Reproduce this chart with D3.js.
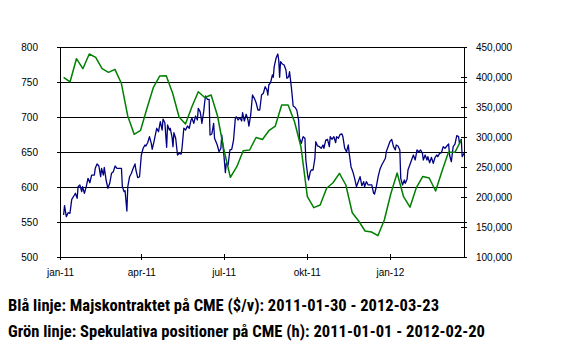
<!DOCTYPE html>
<html><head><meta charset="utf-8">
<script src="https://cdn.jsdelivr.net/npm/d3@7"></script>
<style>body{margin:0;background:#fff}svg{display:block}</style>
</head><body>
<script>
// ---------- DATA ----------
const leftTicks = [500, 550, 600, 650, 700, 750, 800];
const rightTicks = [100000, 150000, 200000, 250000, 300000, 350000, 400000, 450000];
const xTickDates = ["2011-01-01", "2011-04-01", "2011-07-01", "2011-10-01", "2012-01-01"];
const xTickLabels = ["jan-11", "apr-11", "jul-11", "okt-11", "jan-12"];
const legendLines = [
  "Blå linje: Majskontraktet på CME ($/v): 2011-01-30 - 2012-03-23",
  "Grön linje: Spekulativa positioner på CME (h): 2011-01-01 - 2012-02-20"
];
// Blue: corn contract price ($/bushel cents), left axis
const blueSeries = [
["2011-01-05",560.0],["2011-01-06",573.3],["2011-01-08",557.6],["2011-01-10",563.3],["2011-01-12",562.4],
["2011-01-14",582.4],["2011-01-17",588.6],["2011-01-18",591.0],["2011-01-20",583.9],["2011-01-21",600.4],
["2011-01-23",602.9],["2011-01-25",593.3],["2011-01-26",600.4],["2011-01-28",591.0],["2011-01-30",600.4],
["2011-02-01",612.4],["2011-02-03",606.1],["2011-02-05",617.1],["2011-02-08",617.1],["2011-02-09",626.7],
["2011-02-11",632.9],["2011-02-13",630.0],["2011-02-15",614.7],["2011-02-16",626.7],["2011-02-18",617.1],
["2011-02-19",628.1],["2011-02-21",610.0],["2011-02-23",598.1],["2011-02-25",605.3],["2011-02-27",619.6],
["2011-03-01",621.9],["2011-03-03",630.0],["2011-03-05",626.7],["2011-03-08",626.7],["2011-03-10",626.7],
["2011-03-11",600.4],["2011-03-13",593.3],["2011-03-14",594.7],["2011-03-16",565.7],["2011-03-17",600.4],
["2011-03-19",614.7],["2011-03-21",619.6],["2011-03-23",626.7],["2011-03-25",632.9],["2011-03-26",624.3],
["2011-03-28",613.3],["2011-03-30",614.7],["2011-04-01",645.7],["2011-04-03",655.3],["2011-04-05",660.0],
["2011-04-06",658.6],["2011-04-08",663.3],["2011-04-10",671.9],["2011-04-12",662.4],["2011-04-13",653.9],
["2011-04-15",664.7],["2011-04-18",683.9],["2011-04-20",679.0],["2011-04-22",693.3],["2011-04-24",681.4],
["2011-04-25",697.1],["2011-04-27",691.9],["2011-04-29",656.7],["2011-04-30",688.6],["2011-05-02",681.4],
["2011-05-03",683.9],["2011-05-05",671.0],["2011-05-06",657.6],["2011-05-07",677.6],["2011-05-09",669.6],
["2011-05-11",645.7],["2011-05-13",648.1],["2011-05-15",647.1],["2011-05-16",655.3],["2011-05-18",683.9],
["2011-05-20",681.4],["2011-05-22",687.1],["2011-05-24",683.9],["2011-05-26",695.7],["2011-05-27",698.1],
["2011-05-29",691.0],["2011-05-31",701.4],["2011-06-02",695.7],["2011-06-03",712.4],["2011-06-05",707.6],
["2011-06-06",700.4],["2011-06-07",691.0],["2011-06-09",707.6],["2011-06-10",720.4],["2011-06-11",730.0],
["2011-06-13",725.3],["2011-06-15",725.3],["2011-06-16",674.3],["2011-06-18",675.7],["2011-06-20",691.0],
["2011-06-21",669.6],["2011-06-24",660.0],["2011-06-26",650.4],["2011-06-28",655.3],["2011-06-29",674.3],
["2011-07-01",650.4],["2011-07-03",620.4],["2011-07-04",633.9],["2011-07-06",631.4],["2011-07-08",652.9],
["2011-07-10",653.9],["2011-07-12",667.1],["2011-07-14",698.1],["2011-07-15",700.4],["2011-07-17",695.7],
["2011-07-19",699.0],["2011-07-21",694.3],["2011-07-22",706.1],["2011-07-24",694.3],["2011-07-26",703.9],
["2011-07-28",695.7],["2011-07-29",687.1],["2011-07-31",702.9],["2011-08-02",731.4],["2011-08-04",726.7],
["2011-08-06",720.4],["2011-08-08",710.0],["2011-08-10",710.0],["2011-08-12",731.4],["2011-08-14",733.9],
["2011-08-16",743.3],["2011-08-18",738.6],["2011-08-19",731.4],["2011-08-20",745.7],["2011-08-22",749.0],
["2011-08-24",760.0],["2011-08-25",756.7],["2011-08-26",771.9],["2011-08-28",783.9],["2011-08-29",787.1],
["2011-08-30",790.0],["2011-08-31",781.4],["2011-09-01",756.7],["2011-09-02",779.0],["2011-09-04",775.7],
["2011-09-06",774.3],["2011-09-08",767.1],["2011-09-09",755.3],["2011-09-11",757.6],["2011-09-12",764.7],
["2011-09-14",742.4],["2011-09-16",715.7],["2011-09-18",713.9],["2011-09-20",710.0],["2011-09-22",695.7],
["2011-09-23",669.6],["2011-09-25",662.4],["2011-09-27",671.9],["2011-09-29",669.6],["2011-09-30",638.6],
["2011-10-02",617.1],["2011-10-03",610.0],["2011-10-05",621.9],["2011-10-06",624.3],["2011-10-08",624.3],
["2011-10-10",641.0],["2011-10-11",664.7],["2011-10-13",658.6],["2011-10-15",657.6],["2011-10-17",655.3],
["2011-10-19",660.0],["2011-10-20",655.3],["2011-10-22",667.1],["2011-10-24",668.1],["2011-10-26",657.6],
["2011-10-27",671.9],["2011-10-29",668.1],["2011-10-31",671.9],["2011-11-02",663.3],["2011-11-03",671.9],
["2011-11-05",669.6],["2011-11-07",675.3],["2011-11-09",675.7],["2011-11-10",671.9],["2011-11-12",655.3],
["2011-11-14",650.4],["2011-11-16",660.0],["2011-11-17",648.1],["2011-11-19",629.0],["2011-11-21",621.9],
["2011-11-23",612.4],["2011-11-25",600.4],["2011-11-27",607.6],["2011-11-29",614.7],["2011-12-01",601.9],
["2011-12-03",607.6],["2011-12-04",600.4],["2011-12-06",607.6],["2011-12-08",602.9],["2011-12-10",602.9],
["2011-12-12",602.9],["2011-12-14",591.0],["2011-12-15",590.0],["2011-12-17",600.4],["2011-12-19",614.7],
["2011-12-21",625.3],["2011-12-23",631.4],["2011-12-25",636.1],["2011-12-27",641.0],["2011-12-28",650.4],
["2011-12-30",657.6],["2012-01-01",664.7],["2012-01-03",668.1],["2012-01-05",657.6],["2012-01-07",652.9],
["2012-01-08",660.0],["2012-01-10",658.6],["2012-01-12",652.9],["2012-01-13",612.4],["2012-01-15",602.9],
["2012-01-17",610.0],["2012-01-18",605.3],["2012-01-20",611.0],["2012-01-21",624.3],["2012-01-23",631.4],
["2012-01-25",638.6],["2012-01-27",645.7],["2012-01-29",638.6],["2012-01-30",645.7],["2012-01-31",652.9],
["2012-02-02",650.4],["2012-02-04",652.9],["2012-02-06",648.1],["2012-02-07",638.6],["2012-02-09",645.7],
["2012-02-11",638.6],["2012-02-12",643.3],["2012-02-14",634.7],["2012-02-16",642.4],["2012-02-18",633.9],
["2012-02-20",642.4],["2012-02-22",645.7],["2012-02-23",643.3],["2012-02-25",648.1],["2012-02-27",649.0],
["2012-02-29",657.6],["2012-03-02",655.3],["2012-03-04",658.6],["2012-03-06",661.4],["2012-03-07",645.7],
["2012-03-09",636.1],["2012-03-11",657.6],["2012-03-13",661.4],["2012-03-15",673.3],["2012-03-17",671.9],
["2012-03-18",662.4],["2012-03-20",668.1],["2012-03-21",643.3],["2012-03-23",648.1]
];
// Green: speculative positions (contracts), right axis, weekly, plotted on its own category axis
const greenValues = [
399500,391700,430500,413800,438300,432800,413800,407800,412800,389500,
335000,304500,311200,347800,382800,401700,402200,372800,333300,321700,
350500,375500,365800,370000,335000,278300,232800,250500,277200,278300,
299200,295800,310500,318300,353300,353300,325500,283800,200500,182200,
186700,214500,223800,239500,220000,173800,160000,143300,141700,135500,
161700,205000,240000,200500,183000,215800,234200,231700,210000,243300,
274500,274500,295000
];
const greenFirst = "2011-01-05", greenLast = "2012-03-20";

// ---------- CHART ----------
const W = 562, H = 355;
const parse = d3.timeParse("%Y-%m-%d");
const svg = d3.select("body").append("svg").attr("width", W).attr("height", H);

const x = d3.scaleTime().domain([parse("2011-01-01"), parse("2012-03-23")]).range([60, 464]);
const yL = d3.scaleLinear().domain([500, 800]).range([257, 47]);
const yR = d3.scaleLinear().domain([100000, 450000]).range([257, 47]);
const xG = d3.scaleLinear().domain([0, greenValues.length - 1])
  .range([x(parse(greenFirst)), x(parse(greenLast))]);

const axisFont = "'Liberation Sans', Arial, sans-serif";

// gridlines
svg.append("g").attr("transform", "translate(60,0)")
  .call(d3.axisLeft(yL).tickValues(leftTicks.slice(1)).tickSize(-404).tickSizeOuter(0).tickFormat(""))
  .call(g => g.select(".domain").remove())
  .call(g => g.selectAll("line").attr("stroke", "#000").attr("stroke-width", 1.2).attr("x2", 404 + 3).attr("x1", -3))
  .attr("shape-rendering", "crispEdges");

// left axis
const gl = svg.append("g").attr("transform", "translate(60,0)")
  .call(d3.axisLeft(yL).tickValues(leftTicks).tickSize(3).tickSizeOuter(0).tickPadding(19).tickFormat(d3.format("d")));
gl.select(".domain").attr("stroke", "#000").attr("stroke-width", 1.2).attr("shape-rendering", "crispEdges");
gl.selectAll("line").attr("stroke", "#000").attr("shape-rendering", "crispEdges");
gl.selectAll("text").attr("font-family", axisFont).attr("font-size", "10px").attr("fill", "#000");

// right axis
const gr = svg.append("g").attr("transform", "translate(464,0)")
  .call(d3.axisRight(yR).tickValues(rightTicks).tickSize(3).tickSizeOuter(0).tickPadding(9).tickFormat(d3.format(",")));
gr.select(".domain").attr("stroke", "#000").attr("stroke-width", 1.2).attr("shape-rendering", "crispEdges");
gr.selectAll("line").attr("stroke", "#000").attr("x1", -3).attr("x2", 3).attr("shape-rendering", "crispEdges");
gr.selectAll("text").attr("font-family", axisFont).attr("font-size", "10px").attr("fill", "#000");

// bottom axis
const gb = svg.append("g").attr("transform", "translate(0,257)")
  .call(d3.axisBottom(x).tickValues(xTickDates.map(parse)).tickSize(3).tickSizeOuter(0)
    .tickFormat((d, i) => xTickLabels[i]));
gb.select(".domain").attr("stroke", "#000").attr("stroke-width", 1.2).attr("shape-rendering", "crispEdges");
gb.selectAll("line").attr("stroke", "#000").attr("y1", -3).attr("y2", 3).attr("shape-rendering", "crispEdges");
gb.selectAll("text").attr("font-family", axisFont).attr("font-size", "10px").attr("fill", "#000")
  .attr("y", 19).attr("dy", null);

// blue line
const blueLine = d3.line().x(d => x(parse(d[0]))).y(d => yL(d[1]));
svg.append("path").datum(blueSeries).attr("d", blueLine)
  .attr("fill", "none").attr("stroke", "#000080").attr("stroke-width", 1.3).attr("stroke-linejoin", "round");

// green line
const greenLine = d3.line().x((d, i) => xG(i)).y(d => yR(d));
svg.append("path").datum(greenValues).attr("d", greenLine)
  .attr("fill", "none").attr("stroke", "#008000").attr("stroke-width", 1.5).attr("stroke-linejoin", "round");

// legend text
const legendFont = "'Liberation Sans Narrow', 'Arial Narrow', 'Roboto Condensed', 'Liberation Sans', sans-serif";
const legendLens = [431, 477];
const legendY = [311, 337];
legendLines.forEach((t, i) => {
  svg.append("text").attr("x", 8).attr("y", legendY[i]).text(t)
    .attr("font-family", legendFont).attr("font-weight", "bold").attr("font-size", "17px")
    .attr("fill", "#000").attr("textLength", legendLens[i]).attr("lengthAdjust", "spacingAndGlyphs");
});
</script>
</body></html>
